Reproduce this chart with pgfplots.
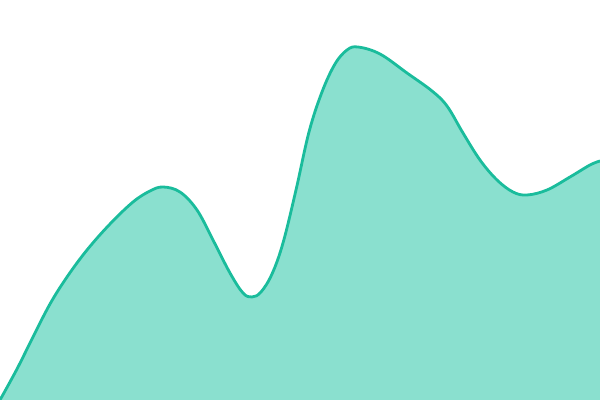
\documentclass[border=0pt]{standalone}
\usepackage{pgfplots}
\pgfplotsset{compat=1.18}
\definecolor{lineteal}{RGB}{26,188,156}
\definecolor{fillteal}{RGB}{138,224,207}

\pgfplotstableread{
x   y
0   0
17  31
33  63
50  96
67  123
87  150
110 176
133 198
150 209
163 213
180 208
197 190
213 160
230 127
243 107
252 103
261 108
272 126
283 157
296 210
309 268
322 308
335 336
347 350
358 353
380 346
407 327
432 309
447 294
463 267
480 240
497 220
513 208
527 205
547 210
570 223
590 235
600 239
}\series

\begin{document}
\begin{tikzpicture}
\begin{axis}[
  scale only axis,
  width=15cm, height=10cm,
  xmin=0, xmax=600,
  ymin=0, ymax=400,
  hide axis,
  clip=true,
]
\addplot[fill=fillteal, draw=none, smooth, tension=0.6] table {\series} \closedcycle;
\addplot[lineteal, line width=2pt, smooth, tension=0.6] table {\series};
\end{axis}
\pgfresetboundingbox
\path (current axis.south west) rectangle (current axis.north east);
\end{tikzpicture}
\end{document}
